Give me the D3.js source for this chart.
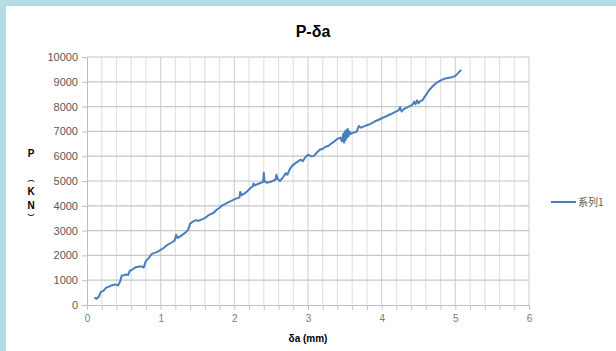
<!DOCTYPE html>
<html><head><meta charset="utf-8">
<script src="https://cdn.jsdelivr.net/npm/d3@7"></script>
<style>
html,body{margin:0;padding:0;background:#fff;}
svg{display:block;font-family:"Liberation Sans","DejaVu Sans",sans-serif;}
</style></head>
<body>
<script>
const chartTitle = "P-δa";
const xTitle = "δa (mm)";
const seriesName = "系列1";
const xTicks = [0,1,2,3,4,5,6];
const yTicks = [0,1000,2000,3000,4000,5000,6000,7000,8000,9000,10000];
const xs = [0.10,0.13,0.16,0.19,0.22,0.26,0.30,0.34,0.38,0.42,0.45,0.47,0.50,0.53,0.56,0.58,0.60,0.63,0.66,0.70,0.74,0.77,0.80,0.84,0.88,0.92,0.96,1.00,1.04,1.08,1.12,1.16,1.19,1.21,1.23,1.26,1.30,1.34,1.37,1.40,1.44,1.48,1.52,1.56,1.60,1.64,1.68,1.72,1.76,1.80,1.84,1.88,1.92,1.96,2.00,2.04,2.07,2.08,2.10,2.14,2.18,2.22,2.25,2.26,2.28,2.32,2.36,2.39,2.40,2.41,2.44,2.48,2.52,2.56,2.57,2.59,2.62,2.66,2.70,2.72,2.75,2.78,2.82,2.86,2.90,2.93,2.96,3.00,3.04,3.08,3.12,3.16,3.20,3.24,3.28,3.32,3.36,3.40,3.44,3.46,3.48,3.49,3.50,3.51,3.52,3.53,3.54,3.55,3.56,3.58,3.62,3.66,3.69,3.72,3.76,3.80,3.84,3.88,3.92,3.96,4.00,4.04,4.08,4.12,4.16,4.20,4.23,4.25,4.27,4.30,4.34,4.38,4.42,4.44,4.46,4.48,4.50,4.52,4.55,4.58,4.61,4.64,4.68,4.72,4.76,4.80,4.85,4.90,4.95,5.00,5.04,5.08];
const ps = [300,250,330,540,560,700,740,800,830,790,950,1180,1200,1230,1210,1380,1400,1460,1520,1540,1560,1510,1780,1900,2060,2100,2150,2220,2300,2400,2470,2540,2600,2830,2700,2760,2840,2930,3020,3280,3370,3420,3400,3450,3500,3600,3660,3720,3840,3920,4030,4080,4150,4200,4260,4310,4330,4560,4430,4500,4600,4720,4780,4900,4820,4880,4930,4960,5330,4980,4930,4960,5000,5060,5250,5080,5000,5150,5320,5250,5460,5600,5700,5780,5860,5800,5950,6060,6000,6010,6150,6260,6300,6380,6420,6520,6600,6700,6750,6600,6900,6550,7000,6650,7050,6750,7100,6800,7000,6900,6950,6980,7220,7150,7200,7250,7290,7350,7420,7470,7530,7580,7640,7690,7750,7810,7850,7980,7800,7900,7960,8020,8080,8200,8100,8250,8130,8220,8240,8380,8500,8650,8780,8900,8990,9060,9120,9150,9180,9240,9360,9480];

const W = 616, H = 351;
const L = 87, R = 529, T = 57, B = 305;
const svg = d3.select("body").append("svg").attr("width", W).attr("height", H);

// outer frame
svg.append("rect").attr("x",0).attr("y",0).attr("width",W).attr("height",H).attr("fill","#b5dce6");
svg.append("rect").attr("x",6).attr("y",6).attr("width",W-6).attr("height",H-6).attr("fill","#ffffff");

const x = d3.scaleLinear().domain([0,6]).range([L,R]);
const y = d3.scaleLinear().domain([0,10000]).range([B,T]);

// vertical gridlines (every 0.2)
const minorX = d3.range(0, 30.5, 1).map(i => i/5);
svg.append("g").selectAll("line").data(minorX.filter(v => v > 0)).join("line")
  .attr("x1", d => x(d)).attr("x2", d => x(d)).attr("y1", T).attr("y2", B)
  .attr("stroke", d => Math.abs(d - Math.round(d)) < 1e-6 ? "#d4d4d4" : "#e2e2e2").attr("stroke-width", 1.2);

// horizontal gridlines
svg.append("g").selectAll("line").data(yTicks.filter(v => v > 0)).join("line")
  .attr("x1", L).attr("x2", R).attr("y1", d => y(d)).attr("y2", d => y(d))
  .attr("stroke", "#c6c6c6").attr("stroke-width", 1.2);

// axes
const yAxis = d3.axisLeft(y).tickValues(yTicks).tickSize(5).tickFormat(d3.format("d"));
const gy = svg.append("g").attr("transform", `translate(${L},0)`).call(yAxis);
gy.select(".domain").attr("stroke", "#bfbfbf");
gy.selectAll(".tick line").attr("stroke", "#bfbfbf");
gy.selectAll(".tick text").attr("fill", "#595959").attr("font-size", 11).attr("x", -9);

const xAxis = d3.axisBottom(x).tickValues(minorX).tickSize(5).tickFormat(d => Number.isInteger(d) ? d : "");
const gx = svg.append("g").attr("transform", `translate(0,${B})`).call(xAxis);
gx.select(".domain").attr("stroke", "#bfbfbf");
gx.selectAll(".tick line").attr("stroke", "#c4c4c4");
gx.selectAll(".tick text").attr("fill", "#7a7a7a").attr("font-size", 10).attr("dy", "0.9em");

// series line
const data = xs.map((v, i) => [v, ps[i]]);
svg.append("path").datum(data)
  .attr("fill", "none").attr("stroke", "#4a7ebb").attr("stroke-width", 2)
  .attr("stroke-linejoin", "round")
  .attr("d", d3.line().x(d => x(d[0])).y(d => y(d[1])));

// title
svg.append("text").attr("x", 313).attr("y", 37).attr("text-anchor", "middle")
  .attr("font-size", 16).attr("font-weight", "bold").attr("fill", "#000").text(chartTitle);

// x title
svg.append("text").attr("x", 308).attr("y", 342).attr("text-anchor", "middle")
  .attr("font-size", 10).attr("font-weight", "bold").attr("fill", "#000").text(xTitle);

// y title stacked vertically
const yTitleChars = ["P", "︵", "K", "N", "︶"];
const yTitleY = [157, 181, 195, 209, 220];
const yTitleSize = [10, 7, 10, 10, 7];
svg.append("g").selectAll("text").data(yTitleChars).join("text")
  .attr("x", 31).attr("y", (d, i) => yTitleY[i]).attr("text-anchor", "middle")
  .attr("font-size", (d, i) => yTitleSize[i]).attr("font-weight", "bold").attr("fill", "#000")
  .attr("font-family", (d) => (d === "︵" || d === "︶") ? "Noto Sans CJK SC" : null)
  .text(d => d);

// legend
svg.append("line").attr("x1", 551).attr("x2", 576).attr("y1", 202).attr("y2", 202)
  .attr("stroke", "#4a7ebb").attr("stroke-width", 2);
svg.append("text").attr("x", 578).attr("y", 206).attr("font-size", 10).attr("fill", "#595959")
  .attr("font-family", "Noto Sans CJK SC").text(seriesName);
</script>
</body></html>
